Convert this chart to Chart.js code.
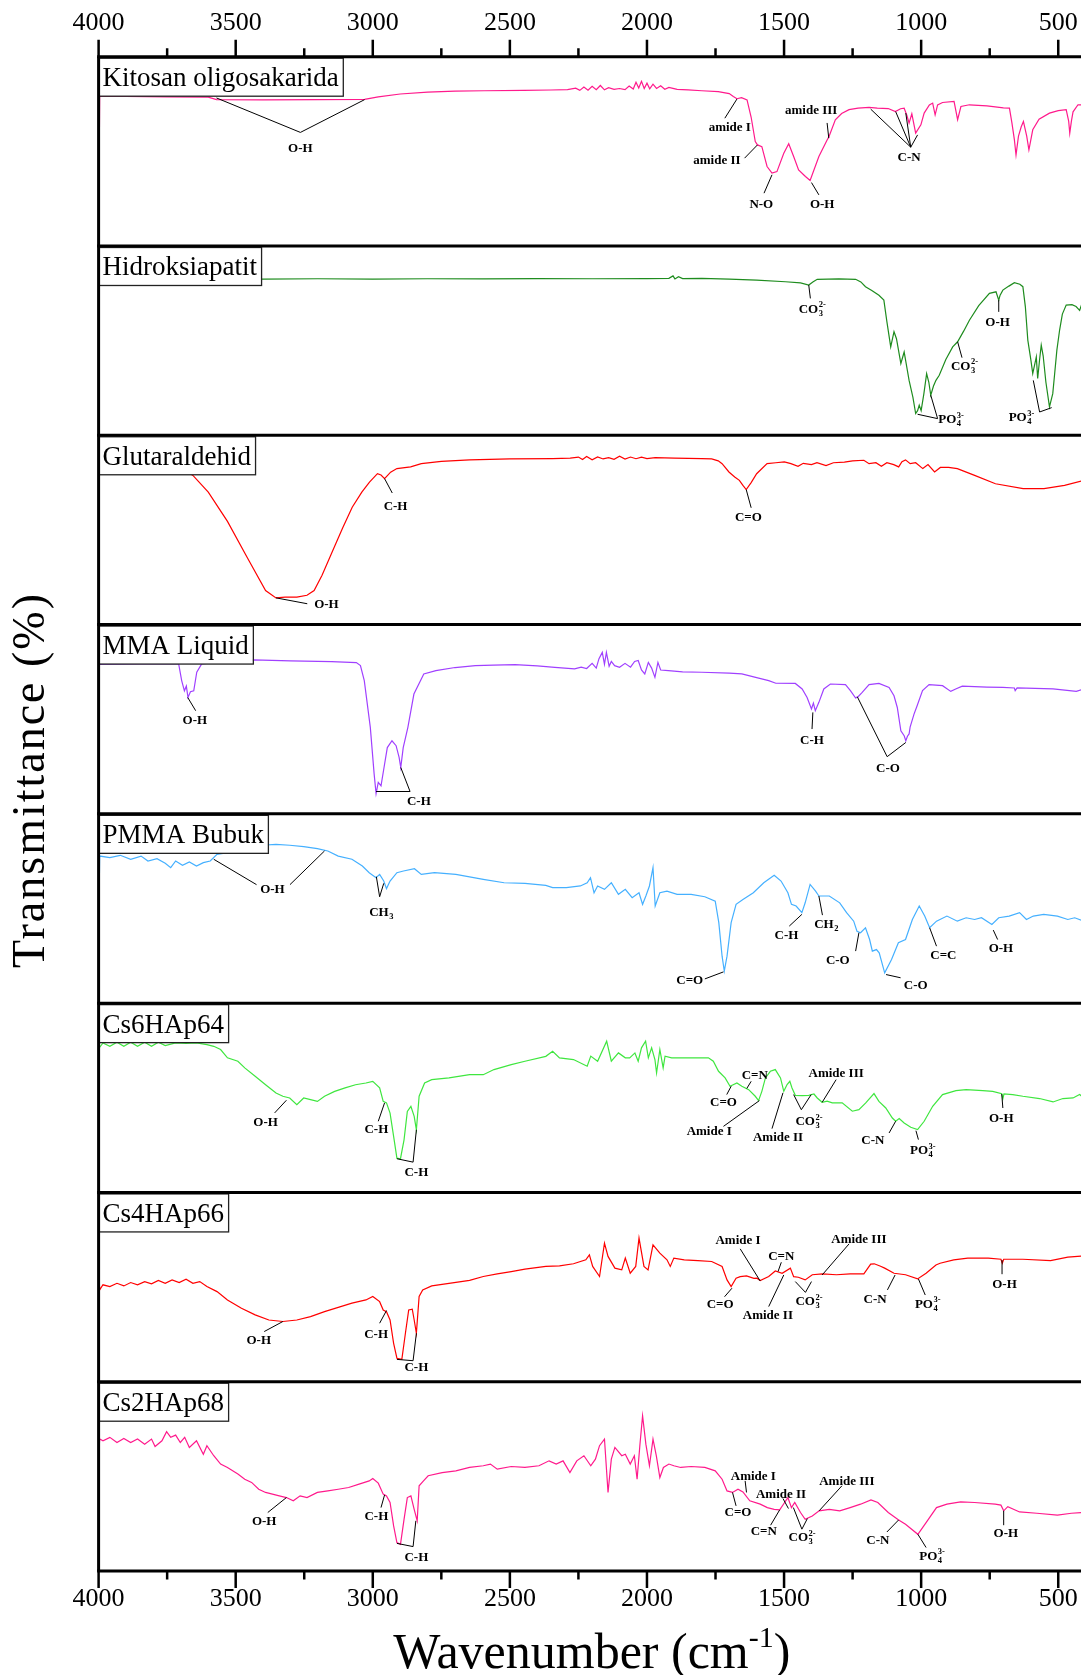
<!DOCTYPE html>
<html>
<head>
<meta charset="utf-8">
<script src="https://cdn.jsdelivr.net/npm/chart.js@4.4.1/dist/chart.umd.min.js"></script>
<style>
  html, body { margin: 0; padding: 0; background: #ffffff; }
  canvas { display: block; }
</style>
</head>
<body>
<canvas id="ftir" width="1081" height="1675"></canvas>
<script>
// ---- FTIR spectra, one panel per sample (wavenumber cm-1, relative transmittance 0-100 within its panel) ----
const panelNames = ['Kitosan oligosakarida', 'Hidroksiapatit', 'Glutaraldehid', 'MMA Liquid',
                    'PMMA Bubuk', 'Cs6HAp64', 'Cs4HAp66', 'Cs2HAp68'];
const panelColors = ['#ff1a8c', '#1e8c1e', '#ff0000', '#a040ff', '#45b0ff', '#3fe63f', '#ff0000', '#ff1a8c'];
const wavenumberTicks = [4000, 3500, 3000, 2500, 2000, 1500, 1000, 500];

const kitosan = [[4000,10],[3996,79],[3900,79],[3750,78.8],[3600,78.6],[3570,77.3],[3400,77.2],[3200,77.3],[3030,77.5],[2980,78.8],[2900,80.3],[2800,81.3],[2700,81.8],[2594,82],[2450,82.2],[2350,82.4],[2290,82.6],[2260,83.4],[2245,82.2],[2230,84],[2215,82.3],[2200,84.4],[2185,82.6],[2170,84.8],[2155,82.5],[2140,83.6],[2120,82.7],[2100,83.2],[2080,82.6],[2065,84.5],[2050,82.9],[2040,86.5],[2030,83.5],[2020,87],[2010,83.2],[2000,86],[1990,83],[1978,85.5],[1965,83.2],[1950,84.6],[1935,82.8],[1920,83.8],[1890,82.7],[1850,82.5],[1800,82],[1740,81.5],[1700,80.5],[1685,79],[1672,77.8],[1655,78.4],[1635,77.2],[1620,68],[1605,55.2],[1597,53.4],[1581,52.5],[1562,42],[1544,38.5],[1526,39.3],[1501,49],[1483,54],[1465,47.3],[1447,40.2],[1422,36.7],[1405,34.6],[1373,47.3],[1343,56],[1337,57.5],[1313,66.7],[1290,70],[1263,72],[1230,72.8],[1190,73.2],[1160,72.8],[1120,72.6],[1094,71],[1075,72.5],[1062,72.8],[1052,69],[1044,64.9],[1034,69.8],[1020,59.6],[1001,64],[989,70.2],[970,74.5],[958,75.5],[949,69.3],[940,74.5],[922,75.8],[880,76.4],[867,66.7],[855,73.7],[824,74.6],[760,74],[700,73],[678,72.8],[669,65],[660,56.2],[654,48.1],[645,58],[635,63],[627,65.8],[615,58],[607,50.8],[600,56],[593,61.4],[570,67],[532,70.2],[500,71.5],[471,72],[462,66],[458,59.6],[452,66],[446,70.9],[428,74.6],[406,74.6]];

const hidroksiapatit = [[4000,82.4],[3800,82.6],[3500,82.4],[3400,82.5],[3200,82.7],[3000,82.5],[2800,82.7],[2600,82.6],[2400,82.8],[2200,82.7],[2000,82.8],[1920,82.9],[1905,84.2],[1898,82.6],[1885,83.8],[1870,82.8],[1800,82.9],[1700,82.5],[1600,82],[1495,81.1],[1440,80.5],[1410,79.4],[1395,81],[1379,82.4],[1300,82.6],[1239,82.4],[1220,81],[1203,78.5],[1180,76.5],[1154,74],[1136,71.4],[1125,60],[1111,46.7],[1099,54.7],[1090,51],[1074,37.9],[1062,44],[1044,29],[1030,20],[1020,11.5],[1013,13],[1007,15.9],[1000,13],[990,22],[980,32.6],[972,28],[965,21.2],[955,26],[946,29],[934,31.7],[910,40],[885,46.7],[867,49.4],[845,55],[824,60.8],[790,68.5],[751,75],[727,75.8],[717,71.4],[712,74],[702,76.7],[680,78.8],[660,80.6],[640,79.8],[629,78.5],[620,68],[611,50.3],[600,40],[593,32.6],[585,38],[580,41.4],[575,30],[568,40],[562,47.6],[555,42],[545,28],[532,15],[520,22],[513,32.6],[505,45],[495,55.6],[485,64],[471,68.8],[450,69],[435,68],[422,66],[415,69],[406,71.4]];

const glutaraldehid = [[4000,88],[3800,86],[3700,83],[3656,78.8],[3600,70],[3530,54.5],[3460,36],[3391,18],[3353,14.1],[3320,14.5],[3277,14.5],[3240,15.5],[3214,18],[3185,26],[3151,37.4],[3110,51],[3075,62],[3040,70],[3012,75.3],[2983,79.7],[2970,79],[2957,77.1],[2935,80.5],[2912,82.4],[2862,83.3],[2823,85],[2750,86.2],[2647,87],[2500,87.5],[2344,87.7],[2280,87.9],[2250,88.5],[2235,87.2],[2220,88.8],[2200,87],[2180,88.6],[2160,87.5],[2140,88.2],[2120,87.3],[2100,88.9],[2080,87.4],[2060,88.5],[2040,87.6],[2020,88.4],[2000,87.7],[1970,88.2],[1900,87.9],[1800,87.7],[1764,87.5],[1740,86.5],[1726,85],[1701,80.6],[1680,78],[1663,76.2],[1650,73.5],[1638,71.3],[1620,75],[1600,79.7],[1562,85],[1530,85.5],[1499,85.9],[1475,85],[1449,83.6],[1430,85.2],[1400,84.5],[1380,85.5],[1347,84],[1320,85.5],[1280,85.8],[1250,86.5],[1209,86.8],[1190,85],[1165,85.5],[1145,83.6],[1125,85.5],[1100,84.5],[1082,83.3],[1070,86],[1057,87],[1040,85],[1020,85.5],[994,82.4],[975,84.5],[951,80.6],[930,83],[900,83],[868,82.4],[805,78.8],[729,74.4],[628,71.8],[552,71.8],[477,73.5],[406,76.2]];

const mmaLiquid = [[4000,67],[3997,79],[3850,79.2],[3708,79.2],[3697,70.4],[3687,65],[3680,67.5],[3674,61.5],[3665,64.5],[3653,65],[3642,74.8],[3624,79.2],[3550,80.3],[3436,81.3],[3300,80.8],[3150,80.4],[3060,79.9],[3045,78.3],[3031,70.4],[3009,45.7],[2995,21],[2988,10.7],[2980,16.6],[2970,14.8],[2959,24.5],[2947,35],[2930,38.6],[2915,36],[2904,29.8],[2898,24.5],[2889,35],[2872,45.7],[2850,63.3],[2814,73.9],[2770,75.7],[2700,77.3],[2626,78.3],[2560,78.6],[2481,78.8],[2400,78.2],[2336,77.4],[2264,76.6],[2240,77.5],[2220,76.8],[2200,79.5],[2185,77],[2175,82],[2163,85.3],[2155,79],[2148,85.3],[2138,78],[2130,80.5],[2118,78.3],[2100,77.4],[2080,79.5],[2060,77.5],[2045,80.5],[2032,81],[2020,76],[2008,73.9],[1995,80],[1983,77],[1971,72.1],[1960,80],[1950,76],[1922,75.7],[1870,75],[1800,74.8],[1700,74.3],[1654,73.9],[1600,72],[1556,70.4],[1530,69],[1459,68.9],[1434,66],[1416,61.5],[1400,55.4],[1393,58.5],[1386,54.5],[1373,58.9],[1355,66],[1331,68.6],[1276,68.3],[1258,65.1],[1239,61.2],[1230,61.9],[1215,64.2],[1190,68.3],[1154,68.9],[1117,66.8],[1099,62.4],[1087,56.2],[1074,43.9],[1062,41.3],[1056,38.6],[1050,41],[1044,42.2],[1040,46],[1026,52.7],[1015,57],[995,65.1],[971,68.3],[922,67.7],[892,64.7],[874,66],[850,67.5],[760,67],[702,66.8],[660,66.5],[657,65.1],[650,66.5],[519,66],[434,64.7],[406,66]];

const pmmaBubuk = [[4000,39],[3996,77.7],[3959,76.9],[3921,78.1],[3883,76],[3845,77.7],[3820,75.1],[3787,76.3],[3757,73.9],[3737,71.6],[3719,75.1],[3694,72.8],[3669,74.6],[3643,72.4],[3618,74.2],[3593,75.1],[3568,78.6],[3530,79.5],[3492,81.6],[3455,82.1],[3404,83.4],[3353,83.9],[3303,83.4],[3252,82.7],[3202,81.6],[3164,80.4],[3126,77.7],[3076,76],[3038,72.4],[3013,68.9],[2988,66.3],[2975,68],[2960,64.5],[2950,60.5],[2937,64.5],[2912,68.9],[2888,69.8],[2848,71],[2823,68],[2775,68.9],[2697,68],[2597,65.4],[2521,63.6],[2445,63.3],[2369,62.2],[2344,61],[2294,61],[2243,61.9],[2218,63.6],[2206,66.3],[2193,58.3],[2180,61.9],[2155,60.1],[2130,63.6],[2104,57.5],[2079,60.1],[2054,55.7],[2029,58.3],[2016,52.2],[2004,56.6],[1991,61.9],[1978,71.6],[1970,51.3],[1953,58.3],[1927,59.2],[1890,57.5],[1839,57.5],[1789,56.2],[1751,53.9],[1738,42.5],[1726,24.8],[1718,16.9],[1708,24.8],[1693,42.5],[1675,52.2],[1650,54.8],[1612,58.3],[1574,63.6],[1536,67.5],[1511,64.5],[1486,58.3],[1473,52.2],[1456,51.3],[1435,47.8],[1423,53],[1405,62.7],[1385,59.2],[1373,56.6],[1335,56.6],[1297,53],[1272,47.8],[1246,43.3],[1234,38],[1221,37.2],[1203,39.8],[1188,33.6],[1178,27.5],[1163,28.3],[1153,26.6],[1133,16],[1108,23.1],[1083,31.9],[1057,33.6],[1032,44.2],[1007,51.3],[987,46],[969,39.8],[944,43.3],[906,46],[868,43.3],[836,45.1],[805,44.2],[780,45.1],[742,41.6],[717,45.1],[679,46],[641,47.8],[616,44.2],[591,46],[553,46.9],[503,46],[465,44.2],[440,45.1],[406,43.3]];

const cs6HAp64 = [[4000,76],[3984,79],[3959,77.2],[3933,79.4],[3908,77.2],[3883,79.4],[3858,77.2],[3832,79.4],[3807,77.2],[3782,79.4],[3757,77.6],[3719,79],[3681,78.7],[3643,79],[3605,78.1],[3580,77.2],[3555,75.5],[3530,71.1],[3492,69.3],[3467,65.8],[3429,61.4],[3391,56.9],[3353,52.5],[3328,50.8],[3303,49.9],[3277,46.4],[3252,49.9],[3227,49],[3202,48.1],[3176,50.8],[3139,53.4],[3101,55.2],[3063,56.9],[3025,57.8],[3000,58.7],[2975,55.2],[2962,48.1],[2950,47.3],[2937,41.9],[2924,29.6],[2912,18.1],[2899,17.8],[2886,27.8],[2874,42.8],[2861,45.5],[2849,40.2],[2841,33.1],[2831,50.8],[2811,57.8],[2785,59.6],[2722,60.5],[2647,62.2],[2597,62.2],[2558,64.9],[2495,67.5],[2445,69.3],[2369,71.9],[2344,74.6],[2319,71.1],[2268,70.2],[2218,66.7],[2205,72],[2180,69.3],[2147,79.9],[2130,69.3],[2104,73.7],[2079,71.1],[2063,71.1],[2044,73.7],[2032,69.3],[2020,76.4],[2005,79.9],[1995,71.1],[1983,76.4],[1971,70.2],[1965,63.1],[1953,75.5],[1941,65.8],[1934,72],[1910,71.1],[1849,71.1],[1776,71.1],[1758,69.3],[1739,64],[1715,60.5],[1697,56.1],[1672,57.8],[1654,56.1],[1629,54.3],[1605,50.8],[1593,48.5],[1581,53.4],[1568,60.5],[1550,64],[1532,64.9],[1513,60.5],[1501,53.4],[1489,57],[1479,58.7],[1471,55.2],[1459,51.3],[1434,51.1],[1410,51.3],[1391,52],[1379,49.9],[1361,47.6],[1343,48.2],[1324,47.3],[1288,47.3],[1251,42.9],[1227,43.7],[1202,47.3],[1172,52.2],[1154,48.1],[1129,44.6],[1105,39.3],[1093,37.6],[1080,39],[1062,36.7],[1038,34.4],[1013,33.2],[989,37.6],[958,45.5],[922,51.7],[873,53.8],[836,54.3],[775,53.8],[739,53.4],[706,52.2],[702,49.5],[698,52],[666,51.7],[629,50.8],[568,49.6],[519,47.8],[483,49.6],[446,49.9],[422,51.7],[406,49.9]];

const cs4HAp66 = [[4000,58],[3996,48.5],[3984,51.2],[3959,50.3],[3933,52],[3908,50.6],[3883,52.4],[3858,51.2],[3832,52.9],[3807,51.7],[3782,53.5],[3757,52],[3732,53.8],[3706,52.4],[3681,54.2],[3656,52],[3631,52.9],[3605,50.3],[3568,47.6],[3530,43.2],[3479,38.8],[3429,35.3],[3379,32.6],[3328,31.8],[3277,32.6],[3227,34.4],[3176,37],[3126,39.3],[3076,41.5],[3025,43.2],[3000,45],[2975,42.3],[2962,37.9],[2950,37],[2937,32.6],[2924,20.3],[2912,12.4],[2894,11.8],[2881,25.6],[2869,37.9],[2856,38.3],[2849,32.6],[2841,25.6],[2831,45],[2818,48.5],[2785,50.6],[2722,52],[2647,53.5],[2597,55.6],[2546,57],[2495,58.2],[2445,59.5],[2369,60.9],[2319,61.2],[2268,62.3],[2223,64.4],[2210,67],[2198,60.9],[2173,55.6],[2155,73.2],[2142,66.2],[2117,60],[2092,59.1],[2079,65.3],[2061,57.3],[2041,60.9],[2029,75.9],[2011,60.9],[1996,59.1],[1978,72.3],[1953,67.9],[1927,64.4],[1915,60.9],[1902,65.3],[1864,64.4],[1814,64],[1764,63.5],[1726,60.9],[1708,53.8],[1693,50.3],[1675,54.7],[1660,55.5],[1637,55.9],[1610,54.6],[1599,54.7],[1587,53.5],[1556,55.6],[1532,58.5],[1507,57.3],[1477,60],[1465,55.5],[1448,55.2],[1423,53.8],[1397,56.5],[1360,57],[1309,56.5],[1259,57],[1209,57],[1184,62.1],[1171,62.3],[1148,61],[1133,60],[1099,57.3],[1057,56.5],[1013,54.3],[982,57.3],[946,61.7],[931,62.6],[881,64.4],[830,65.3],[755,65.3],[709,64.7],[704,62.6],[699,64.7],[629,64.7],[528,64],[465,65.8],[406,66.5]];

const cs2HAp68 = [[4000,60.9],[3996,69.7],[3984,68.8],[3959,70.6],[3933,67.9],[3908,70],[3883,67.9],[3858,69.7],[3832,67],[3807,69.7],[3794,65.8],[3769,68.8],[3752,73.6],[3737,70.6],[3719,71.8],[3702,67.9],[3686,70.6],[3669,65.3],[3643,68.8],[3618,61.7],[3605,66.2],[3580,60.9],[3555,56.5],[3530,54.7],[3492,51.2],[3467,48.5],[3442,46.8],[3416,43.2],[3391,41.5],[3366,40.6],[3341,39.7],[3315,38.8],[3290,37.1],[3265,39.7],[3240,38.8],[3202,41.5],[3164,42.3],[3126,43.2],[3088,44.1],[3050,45.9],[3013,47.6],[3000,48.9],[2980,46.4],[2962,40.6],[2950,39.7],[2937,36.2],[2924,23.8],[2912,15],[2899,14.1],[2886,27.3],[2874,38.8],[2861,39.7],[2849,32.6],[2838,26.5],[2831,45],[2815,47.6],[2798,50.3],[2747,52],[2697,52.9],[2647,54.7],[2597,55.6],[2571,56.5],[2546,53.8],[2495,55.2],[2445,54.7],[2394,55.6],[2357,58.2],[2331,56.5],[2306,58.2],[2281,52],[2256,58.2],[2230,60.9],[2205,55.6],[2188,59.1],[2173,66.2],[2155,69.7],[2142,41.5],[2130,59.1],[2117,65.3],[2092,60.9],[2079,61.7],[2061,56.5],[2046,60.9],[2036,48.5],[2026,66.2],[2016,82],[2004,67],[1991,55.6],[1978,69.7],[1966,60.9],[1953,49.4],[1940,54.7],[1920,56.5],[1902,55.6],[1877,54.7],[1839,55.2],[1789,54.7],[1751,52.9],[1726,48.5],[1708,42.3],[1688,41.5],[1668,43.2],[1650,41.8],[1625,37.1],[1587,35.3],[1561,33.5],[1536,32.6],[1516,32.3],[1498,36.2],[1486,38.8],[1473,33.5],[1461,36.2],[1440,30.9],[1423,27.3],[1397,29.1],[1372,31.8],[1335,32.6],[1297,31.8],[1259,33.5],[1221,35.3],[1183,37.6],[1158,36.2],[1120,30.9],[1082,27],[1057,24.7],[1012,19.4],[982,25.6],[944,33.5],[906,35.3],[856,36.5],[805,36.2],[730,35.3],[709,34.8],[699,31.8],[684,34],[641,31.2],[578,30.5],[503,29.5],[452,30.5],[406,30.9]];

const spectra = [kitosan, hidroksiapatit, glutaraldehid, mmaLiquid, pmmaBubuk, cs6HAp64, cs4HAp66, cs2HAp68];

// ---- band assignments drawn on each panel: label anchor and leader lines (wavenumber, panel transmittance) ----
const kitosanBands = [
  {t:'O-H', at:[3264,52], paths:[[[3570,78.2],[3264,60],[3030,77.3]]]},
  {t:'amide I', at:[1698,63], paths:[[[1716,67.5],[1672,77.6]]]},
  {t:'amide II', at:[1745,45.9], paths:[[[1644,46.4],[1597,53.4]]]},
  {t:'N-O', at:[1583,22.6], paths:[[[1573,27.9],[1544,37.6]]]},
  {t:'O-H', at:[1361,22.6], paths:[[[1373,27],[1400,33.5]]]},
  {t:'amide III', at:[1401,72], paths:[[[1343,65],[1337,57]]]},
  {t:'C-N', at:[1044,47.3], paths:[[[1184,72.3],[1038,52.2],[1013,58.7]],[[1093,71],[1038,52.2],[1056,70.2]]]}
];
const hidroksiapatitBands = [
  {t:'CO', sub:'3', sup:'2-', at:[1398,67], paths:[[[1410,79.4],[1404,72.3]]]},
  {t:'CO', sub:'3', sup:'2-', at:[843,37], paths:[[[867,49.4],[851,41]]]},
  {t:'O-H', at:[721,60], paths:[[[717,71.4],[717,65.2]]]},
  {t:'PO', sub:'4', sup:'3-', at:[892,8.8], paths:[[[1013,11.1],[940,8.8],[965,21.2]]]},
  {t:'PO', sub:'4', sup:'3-', at:[635,9.7], paths:[[[591,29],[568,12.3],[524,14.6]]]}
];
const glutaraldehidBands = [
  {t:'C-H', at:[2917,63], paths:[[[2957,77.1],[2929,69.5]]]},
  {t:'C=O', at:[1630,57], paths:[[[1638,71.3],[1620,61.7]]]},
  {t:'O-H', at:[3169,11], paths:[[[3353,14.1],[3239,11]]]}
];
const mmaBands = [
  {t:'O-H', at:[3649,50], paths:[[[3675,61.5],[3646,54.5]]]},
  {t:'C-H', at:[2832,7.2], paths:[[[2988,11.8],[2864,11.8],[2898,24.5]]]},
  {t:'C-H', at:[1398,39.5], paths:[[[1395,53.6],[1398,44.8]]]},
  {t:'C-O', at:[1121,24.5], paths:[[[1233,61.9],[1124,30.2],[1056,37.7]]]}
];
const pmmaBands = [
  {t:'O-H', at:[3366,60.5], paths:[[[3580,76],[3424,62.6]],[[3176,80.4],[3302,62.6]]]},
  {t:'CH', sub:'3', at:[2970,48.6], paths:[[[2987,66.8],[2975,56.2],[2960,63.3]]]},
  {t:'C=O', at:[1844,12.5], paths:[[[1789,12.8],[1721,16.5]]]},
  {t:'C-H', at:[1491,36.3], paths:[[[1481,40.7],[1435,46.9]]]},
  {t:'CH', sub:'2', at:[1347,42.1], paths:[[[1360,46.5],[1373,56.6]]]},
  {t:'C-O', at:[1304,23.1], paths:[[[1239,27.5],[1227,37.2]]]},
  {t:'C-O', at:[1020,9.8], paths:[[[1075,13.4],[1128,15.1]]]},
  {t:'C=C', at:[919,25.7], paths:[[[944,30.1],[969,39.8]]]},
  {t:'O-H', at:[709,29.2], paths:[[[721,33.6],[737,38.6]]]}
];
const cs6Bands = [
  {t:'O-H', at:[3391,37.5], paths:[[[3358,42],[3315,48.7]]]},
  {t:'C-H', at:[2987,34], paths:[[[2980,37.6],[2957,47.3]]]},
  {t:'C-H', at:[2841,11.1], paths:[[[2912,17.8],[2853,16],[2841,33.1]]]},
  {t:'C=O', at:[1721,48.2], paths:[[[1709,51.7],[1693,56.1]]]},
  {t:'C=N', at:[1607,62.3], paths:[[[1620,58.7],[1636,54.9]]]},
  {t:'Amide I', at:[1773,32.6], paths:[[[1721,34.9],[1590,48.5]]]},
  {t:'Amide II', at:[1522,29.3], paths:[[[1544,33.7],[1504,52.6]]]},
  {t:'CO', sub:'3', sup:'2-', at:[1410,37.9], paths:[[[1465,51.7],[1437,43.7],[1401,51.7]]]},
  {t:'Amide III', at:[1310,63.1], paths:[[[1310,59.6],[1361,47.6]]]},
  {t:'C-N', at:[1176,27.9], paths:[[[1117,31.4],[1093,37.6]]]},
  {t:'PO', sub:'4', sup:'3-', at:[995,22.6], paths:[[[1010,27.9],[1019,32.6]]]},
  {t:'O-H', at:[708,39.7], paths:[[[702,44.6],[706,52]]]}
];
const cs4Bands = [
  {t:'O-H', at:[3416,22.1], paths:[[[3396,26.5],[3328,31.8]]]},
  {t:'C-H', at:[2988,25.6], paths:[[[2975,30.9],[2950,37.6]]]},
  {t:'C-H', at:[2841,7.9], paths:[[[2912,11.8],[2853,11.1],[2841,25.6]]]},
  {t:'C=O', at:[1733,41.4], paths:[[[1717,44.9],[1690,49.4]]]},
  {t:'Amide I', at:[1668,75], paths:[[[1660,70.2],[1587,53.2]]]},
  {t:'C=N', at:[1510,66.7], paths:[[[1510,63.1],[1522,58.2]]]},
  {t:'Amide II', at:[1559,35.6], paths:[[[1556,39.7],[1501,56.4]]]},
  {t:'CO', sub:'3', sup:'2-', at:[1410,42.7], paths:[[[1459,52.9],[1422,47.2],[1400,52.9]]]},
  {t:'Amide III', at:[1227,75.8], paths:[[[1263,72.8],[1361,56.4]]]},
  {t:'C-N', at:[1168,44.1], paths:[[[1123,48.5],[1095,56.4]]]},
  {t:'PO', sub:'4', sup:'3-', at:[977,41.4], paths:[[[985,45.8],[1010,54.3]]]},
  {t:'O-H', at:[696,52], paths:[[[705,56.8],[705,64.3]]]}
];
const cs2Bands = [
  {t:'O-H', at:[3396,26.8], paths:[[[3383,30.9],[3315,38.8]]]},
  {t:'C-H', at:[2987,29.1], paths:[[[2970,33.5],[2957,40.2]]]},
  {t:'C-H', at:[2841,7.9], paths:[[[2912,14.6],[2853,12.9],[2843,26.5]]]},
  {t:'C=O', at:[1668,31.2], paths:[[[1675,34.4],[1688,41.5]]]},
  {t:'Amide I', at:[1612,50.6], paths:[[[1642,47.6],[1637,41.5]]]},
  {t:'Amide II', at:[1511,41.1], paths:[[[1504,38.3],[1484,33]]]},
  {t:'C=N', at:[1574,21.2], paths:[[[1549,24.2],[1516,32.3]]]},
  {t:'CO', sub:'3', sup:'2-', at:[1435,18], paths:[[[1466,33.5],[1435,22.1],[1415,27.7]]]},
  {t:'Amide III', at:[1271,47.6], paths:[[[1289,45],[1372,31.8]]]},
  {t:'C-N', at:[1158,16.8], paths:[[[1125,20.6],[1082,27]]]},
  {t:'PO', sub:'4', sup:'3-', at:[961,8.3], paths:[[[982,12.4],[1012,19.4]]]},
  {t:'O-H', at:[691,20.3], paths:[[[699,24.2],[699,31.8]]]}
];
const bands = [kitosanBands, hidroksiapatitBands, glutaraldehidBands, mmaBands, pmmaBands, cs6Bands, cs4Bands, cs2Bands];

// ---- drawing ----
const PANELS = spectra.length;
const SERIF = '"Liberation Serif", "Times New Roman", serif';
const panelOffset = k => (PANELS - 1 - k) * 100;

function drawBandLabel(ctx, b, cx, cy) {
  const baseFont = 'bold 13px ' + SERIF;
  const smallFont = 'bold 8.5px ' + SERIF;
  ctx.font = baseFont;
  const w0 = ctx.measureText(b.t).width;
  ctx.font = smallFont;
  const w1 = Math.max(b.sub ? ctx.measureText(b.sub).width : 0, b.sup ? ctx.measureText(b.sup).width : 0);
  const x0 = cx - (w0 + w1) / 2;
  const baseY = cy + 4.5;
  ctx.textAlign = 'left';
  ctx.textBaseline = 'alphabetic';
  ctx.font = baseFont;
  ctx.fillText(b.t, x0, baseY);
  ctx.font = smallFont;
  if (b.sub) ctx.fillText(b.sub, x0 + w0 + 0.5, baseY + 3);
  if (b.sup) ctx.fillText(b.sup, x0 + w0 + 0.5, baseY - 5.5);
}

const stackedFrame = {
  id: 'stackedFrame',
  afterDatasetsDraw(chart) {
    const {ctx, chartArea: a, scales: {x, y}} = chart;
    ctx.save();

    // band leader lines and labels
    ctx.fillStyle = '#000';
    ctx.strokeStyle = '#000';
    ctx.lineWidth = 1;
    bands.forEach((list, k) => {
      const off = panelOffset(k);
      list.forEach(b => {
        b.paths.forEach(path => {
          ctx.beginPath();
          path.forEach(([w, t], i) => {
            const px = x.getPixelForValue(w), py = y.getPixelForValue(t + off);
            if (i === 0) ctx.moveTo(px, py); else ctx.lineTo(px, py);
          });
          ctx.stroke();
        });
        drawBandLabel(ctx, b, x.getPixelForValue(b.at[0]), y.getPixelForValue(b.at[1] + off));
      });
    });

    // panel name boxes
    ctx.font = '27px ' + SERIF;
    panelNames.forEach((name, k) => {
      const top = y.getPixelForValue(panelOffset(k) + 100);
      const w = ctx.measureText(name).width + 8;
      ctx.fillStyle = '#fff';
      ctx.fillRect(a.left, top + 1.5, w, 38);
      ctx.strokeStyle = '#222';
      ctx.lineWidth = 1.3;
      ctx.strokeRect(a.left + 0.5, top + 1.5, w, 38);
      ctx.fillStyle = '#000';
      ctx.textAlign = 'left';
      ctx.textBaseline = 'alphabetic';
      ctx.fillText(name, a.left + 4, top + 29.5);
    });

    // panel separators, outer axes and left border
    ctx.strokeStyle = '#000';
    ctx.lineWidth = 3;
    for (let k = 0; k <= PANELS; k++) {
      const py = y.getPixelForValue(k * 100);
      ctx.beginPath(); ctx.moveTo(a.left - 1.5, py); ctx.lineTo(a.right, py); ctx.stroke();
    }
    ctx.beginPath(); ctx.moveTo(a.left, a.top); ctx.lineTo(a.left, a.bottom); ctx.stroke();

    // major / minor tick marks on top and bottom axes
    ctx.lineWidth = 2.5;
    const lo = Math.ceil(x.min / 250) * 250;
    for (let v = x.max; v >= lo; v -= 250) {
      const px = x.getPixelForValue(v);
      const len = v % 500 === 0 ? 17 : 8.5;
      ctx.beginPath();
      ctx.moveTo(px, a.top); ctx.lineTo(px, a.top - len);
      ctx.moveTo(px, a.bottom); ctx.lineTo(px, a.bottom + len);
      ctx.stroke();
    }

    // axis titles
    ctx.fillStyle = '#000';
    const big = '50px ' + SERIF, sup = '30px ' + SERIF;
    const parts = [['Wavenumber (cm', big, 0], ['-1', sup, -21], [')', big, 0]];
    let total = 0;
    parts.forEach(p => { ctx.font = p[1]; p.push(ctx.measureText(p[0]).width); total += p[3]; });
    let tx = (a.left + a.right) / 2 + 2 - total / 2;
    ctx.textAlign = 'left';
    ctx.textBaseline = 'alphabetic';
    parts.forEach(p => { ctx.font = p[1]; ctx.fillText(p[0], tx, 1668 + p[2]); tx += p[3]; });

    ctx.translate(32, 780);
    ctx.rotate(-Math.PI / 2);
    ctx.font = '46px ' + SERIF;
    ctx.letterSpacing = '2px';
    ctx.textAlign = 'center';
    ctx.textBaseline = 'middle';
    ctx.fillText('Transmittance (%)', 0, 0);
    ctx.restore();
  }
};

// the two wavenumber axes carry exactly the listed tick values; label padding is not allowed to shrink the plot
const tickFont = {family: SERIF, size: 26};
function wavenumberAxis(position, height, padding) {
  return {
    type: 'linear', position, min: 417, max: 4000, reverse: true,
    grid: {display: false, drawTicks: false}, border: {display: false},
    afterBuildTicks: s => { s.ticks = wavenumberTicks.map(v => ({value: v})); },
    afterFit: s => { s.height = height; s.paddingLeft = 0; s.paddingRight = 0; },
    ticks: {autoSkip: false, maxRotation: 0, minRotation: 0, padding, color: '#000', font: tickFont,
            callback: v => String(v)}
  };
}

new Chart(document.getElementById('ftir'), {
  type: 'line',
  data: {
    datasets: spectra.map((s, k) => ({
      label: panelNames[k],
      data: s.map(([w, t]) => ({x: w, y: t + panelOffset(k)})),
      borderColor: panelColors[k],
      borderWidth: 1.2,
      pointRadius: 0,
      tension: 0,
      fill: false
    }))
  },
  options: {
    responsive: false,
    animation: false,
    devicePixelRatio: 1,
    layout: {padding: {left: 98.6, right: 0, top: 0, bottom: 0}, autoPadding: false},
    plugins: {legend: {display: false}, tooltip: {enabled: false}},
    scales: {
      x: wavenumberAxis('bottom', 104, 13),
      xTop: wavenumberAxis('top', 56.7, 17.5),
      y: {type: 'linear', min: 0, max: PANELS * 100, display: false}
    }
  },
  plugins: [stackedFrame]
});
</script>
</body>
</html>
